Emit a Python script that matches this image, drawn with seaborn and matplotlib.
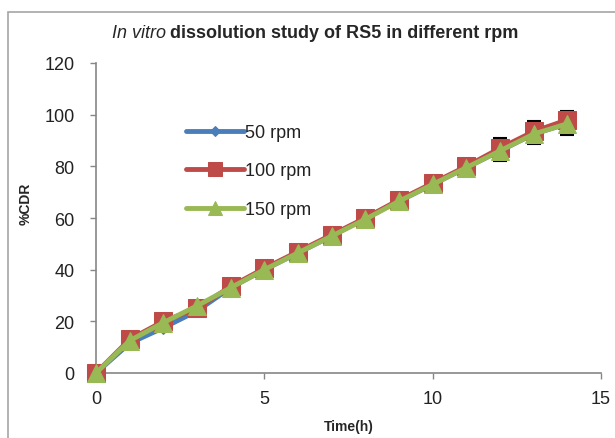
import matplotlib
matplotlib.use("Agg")
from matplotlib import pyplot as plt
from matplotlib.patches import Rectangle
import seaborn as sns

# data
time_h = [0, 1, 2, 3, 4, 5, 6, 7, 8, 9, 10, 11, 12, 13, 14]
rpm50 = [0, 11.5, 17.5, 24, 33, 40, 46.5, 53, 60, 66.5, 73, 79.5, 86, 92.5, 96.5]
rpm100 = [0, 13, 20, 25, 33.5, 40.5, 47, 53.5, 60, 67, 73.5, 80, 87, 93.5, 98]
rpm150 = [0, 12.5, 19.5, 26, 33, 40, 46.5, 53, 59.5, 66.5, 73, 79.5, 86, 92.5, 96.5]
err_time = [12, 13, 14]
err_mean = [86.5, 93, 96.8]
err_sd = [4.3, 4.5, 4.5]
series_labels = ["50 rpm", "100 rpm", "150 rpm"]

sns.set_style("ticks")
plt.rcParams["font.family"] = ["Liberation Sans", "DejaVu Sans"]

fig = plt.figure(figsize=(6.15, 4.39), dpi=100)
ax = fig.add_axes([96 / 615, 65 / 439, 505 / 615, 310 / 439])

# outer chart frame
fig.patches.append(Rectangle((8 / 615, -0.02), 1.0, 1 - 13 / 439 + 0.02,
                             transform=fig.transFigure, fill=False,
                             edgecolor="#a6a6a6", lw=1.2))

ax.errorbar(err_time, err_mean, yerr=err_sd, fmt="none", ecolor="black",
            elinewidth=1.5, capsize=5, capthick=1.5, zorder=1)

sns.lineplot(x=time_h, y=rpm50, color="#4A7EBB", marker="D", markersize=6.5,
             markeredgecolor="#4A7EBB", lw=3.5, label=series_labels[0], ax=ax,
             clip_on=False, zorder=2)
sns.lineplot(x=time_h, y=rpm100, color="#BE4B48", marker="s", markersize=13.5,
             markeredgecolor="#BE4B48", lw=3.5, label=series_labels[1], ax=ax,
             clip_on=False, zorder=3)
sns.lineplot(x=time_h, y=rpm150, color="#98B954", marker="^", markersize=13,
             markeredgecolor="#98B954", lw=3.5, label=series_labels[2], ax=ax,
             clip_on=False, zorder=4)

ax.set_xlim(0, 15)
ax.set_ylim(0, 120)
ax.set_xticks([0, 5, 10, 15])
ax.set_yticks([0, 20, 40, 60, 80, 100, 120])
for s in ["top", "right"]:
    ax.spines[s].set_visible(False)
for s in ["left", "bottom"]:
    ax.spines[s].set_color("#868686")
    ax.spines[s].set_linewidth(1.2)
ax.tick_params(axis="both", direction="out", length=4.5, width=1, color="#868686",
               labelsize=13, labelcolor="#222222")
ax.tick_params(axis="y", pad=11)
ax.tick_params(axis="x", pad=8)

ax.set_xlabel("Time(h)", fontsize=10, fontweight="bold")
ax.xaxis.set_label_coords(0.5, -0.15)
ax.set_ylabel("%CDR", fontsize=10, fontweight="bold")
ax.yaxis.set_label_coords(-0.125, 0.55)

leg = ax.legend(loc="center left", bbox_to_anchor=(186 / 615, (439 - 172) / 439),
                bbox_transform=fig.transFigure, frameon=False, fontsize=13,
                handlelength=3.2, handletextpad=0.05, labelspacing=1.2,
                borderpad=0, borderaxespad=0)
for t in leg.get_texts():
    t.set_color("#222222")
for h in leg.get_lines():
    h.set_markersize(h.get_markersize() * 0.75)

# title: italic "In vitro" followed by the rest
renderer = fig.canvas.get_renderer()
t1 = fig.text(112 / 615, 1 - 33 / 439, "In vitro", fontsize=13, style="italic",
              va="center", ha="left")
bb = t1.get_window_extent(renderer=renderer)
fig.text(bb.x1 / fig.bbox.width + 4 / 615, 1 - 33 / 439,
         "dissolution study of RS5 in different rpm", fontsize=13, fontweight="bold",
         va="center", ha="left")

plt.savefig("out.png", dpi=100)
